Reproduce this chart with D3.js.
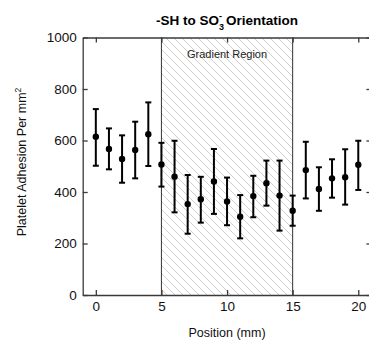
<!DOCTYPE html>
<html>
<head>
<meta charset="utf-8">
<script src="https://cdn.jsdelivr.net/npm/d3@7"></script>
<style>
  body { margin: 0; background: #fff; }
  text { font-family: "Liberation Sans", Arial, sans-serif; }
</style>
</head>
<body>
<div id="divChart"></div>
<script>
// positions along the strip (mm)
const positions = [0, 1, 2, 3, 4, 5, 6, 7, 8, 9, 10, 11, 12, 13, 14, 15, 16, 17, 18, 19, 20];
// mean adhesion per mm^2
const adhesion = [615, 567, 528, 563, 624, 507, 459, 353, 372, 441, 363, 304, 384, 434, 386, 327, 485, 412, 453, 457, 506];
// error bar ends
const errHigh = [722, 647, 620, 673, 748, 591, 599, 466, 459, 567, 456, 388, 463, 522, 522, 386, 595, 496, 527, 566, 599];
const errLow = [502, 488, 436, 453, 501, 421, 321, 238, 281, 315, 271, 220, 302, 347, 250, 269, 375, 327, 378, 351, 408];
const xTicks = [0, 5, 10, 15, 20];
const yTicks = [0, 200, 400, 600, 800, 1000];
const gradientRegion = [5, 15];

const width = 369, height = 341;
const svg = d3.select('#divChart').append('svg')
  .attr('width', width).attr('height', height);

const xScale = d3.scaleLinear().domain([-1, 21]).range([82.7, 371.4]);
const yScale = d3.scaleLinear().domain([0, 1000]).range([295, 37.5]);
const axisColor = '#3a3a3a';

// hatch pattern for the gradient region
const defs = svg.append('defs');
const pat = defs.append('pattern')
  .attr('id', 'hatch')
  .attr('patternUnits', 'userSpaceOnUse')
  .attr('width', 8).attr('height', 8);
pat.append('path')
  .attr('d', 'M-2,-2 L10,10 M-2,6 L2,10 M6,-2 L10,2')
  .attr('stroke', '#c8c8c8').attr('stroke-width', 0.9);

svg.append('rect')
  .attr('x', xScale(gradientRegion[0]))
  .attr('y', yScale(1000))
  .attr('width', xScale(gradientRegion[1]) - xScale(gradientRegion[0]))
  .attr('height', yScale(0) - yScale(1000))
  .attr('fill', 'url(#hatch)');

svg.selectAll('.region-edge').data(gradientRegion)
  .enter().append('line')
  .attr('class', 'region-edge')
  .attr('x1', d => xScale(d)).attr('x2', d => xScale(d))
  .attr('y1', yScale(1000)).attr('y2', yScale(0))
  .attr('stroke', '#333').attr('stroke-width', 1);

svg.append('text')
  .attr('x', xScale(10)).attr('y', 58)
  .attr('text-anchor', 'middle')
  .attr('font-size', 11)
  .attr('fill', '#222')
  .text('Gradient Region');

// axes, ticks pointing inward
function styleAxis(g) {
  g.select('.domain').attr('stroke', axisColor).attr('stroke-width', 1.3);
  g.selectAll('.tick line').attr('stroke', axisColor).attr('stroke-width', 1.3);
  g.selectAll('.tick text').attr('fill', '#111').attr('font-size', 13.5)
    .attr('font-family', '"Liberation Sans", Arial, sans-serif');
}

svg.append('g')
  .attr('transform', `translate(0, ${yScale(0)})`)
  .call(d3.axisBottom(xScale).tickValues(xTicks).tickSizeInner(-5).tickSizeOuter(0).tickPadding(6))
  .call(styleAxis);

svg.append('g')
  .attr('transform', `translate(0, ${yScale(1000)})`)
  .call(d3.axisTop(xScale).tickValues(xTicks).tickSizeInner(-5).tickSizeOuter(0).tickFormat(''))
  .call(styleAxis);

svg.append('g')
  .attr('transform', `translate(${xScale(-1)}, 0)`)
  .call(d3.axisLeft(yScale).tickValues(yTicks).tickFormat(d3.format('d'))
    .tickSizeInner(-5).tickSizeOuter(0).tickPadding(6))
  .call(styleAxis);

svg.append('g')
  .attr('transform', `translate(${xScale(21)}, 0)`)
  .call(d3.axisRight(yScale).tickValues(yTicks).tickSizeInner(-5).tickSizeOuter(0).tickFormat(''))
  .call(styleAxis);

// error bars
const pts = positions.map((p, i) => ({ x: p, y: adhesion[i], hi: errHigh[i], lo: errLow[i] }));
const bars = svg.append('g');
bars.selectAll('.err').data(pts).enter().append('line')
  .attr('x1', d => xScale(d.x)).attr('x2', d => xScale(d.x))
  .attr('y1', d => yScale(d.hi)).attr('y2', d => yScale(d.lo))
  .attr('stroke', '#000').attr('stroke-width', 2);
['hi', 'lo'].forEach(k => {
  bars.selectAll('.cap-' + k).data(pts).enter().append('line')
    .attr('x1', d => xScale(d.x) - 3).attr('x2', d => xScale(d.x) + 3)
    .attr('y1', d => yScale(d[k])).attr('y2', d => yScale(d[k]))
    .attr('stroke', '#000').attr('stroke-width', 2);
});
bars.selectAll('circle').data(pts).enter().append('circle')
  .attr('cx', d => xScale(d.x)).attr('cy', d => yScale(d.y))
  .attr('r', 3.2).attr('fill', '#000');

// title
const title = svg.append('text')
  .attr('x', 227).attr('y', 25)
  .attr('text-anchor', 'middle')
  .attr('font-size', 13.5).attr('font-weight', 'bold').attr('fill', '#000');
title.append('tspan').text('-SH to SO');
title.append('tspan').attr('font-size', 9).attr('dy', 5).text('3');
title.append('tspan').attr('font-size', 9).attr('dx', -5).attr('dy', -11).text('-');
title.append('tspan').attr('dx', 4).attr('dy', 6).text('Orientation');

// axis labels
svg.append('text')
  .attr('x', xScale(10)).attr('y', 337)
  .attr('text-anchor', 'middle')
  .attr('font-size', 12.5).attr('fill', '#111')
  .text('Position (mm)');

const yl = svg.append('text')
  .attr('transform', 'translate(26, 162) rotate(-90)')
  .attr('text-anchor', 'middle')
  .attr('font-size', 12.5).attr('fill', '#111');
yl.append('tspan').text('Platelet Adhesion Per mm');
yl.append('tspan').attr('font-size', 8.5).attr('dy', -5).text('2');
</script>
</body>
</html>
